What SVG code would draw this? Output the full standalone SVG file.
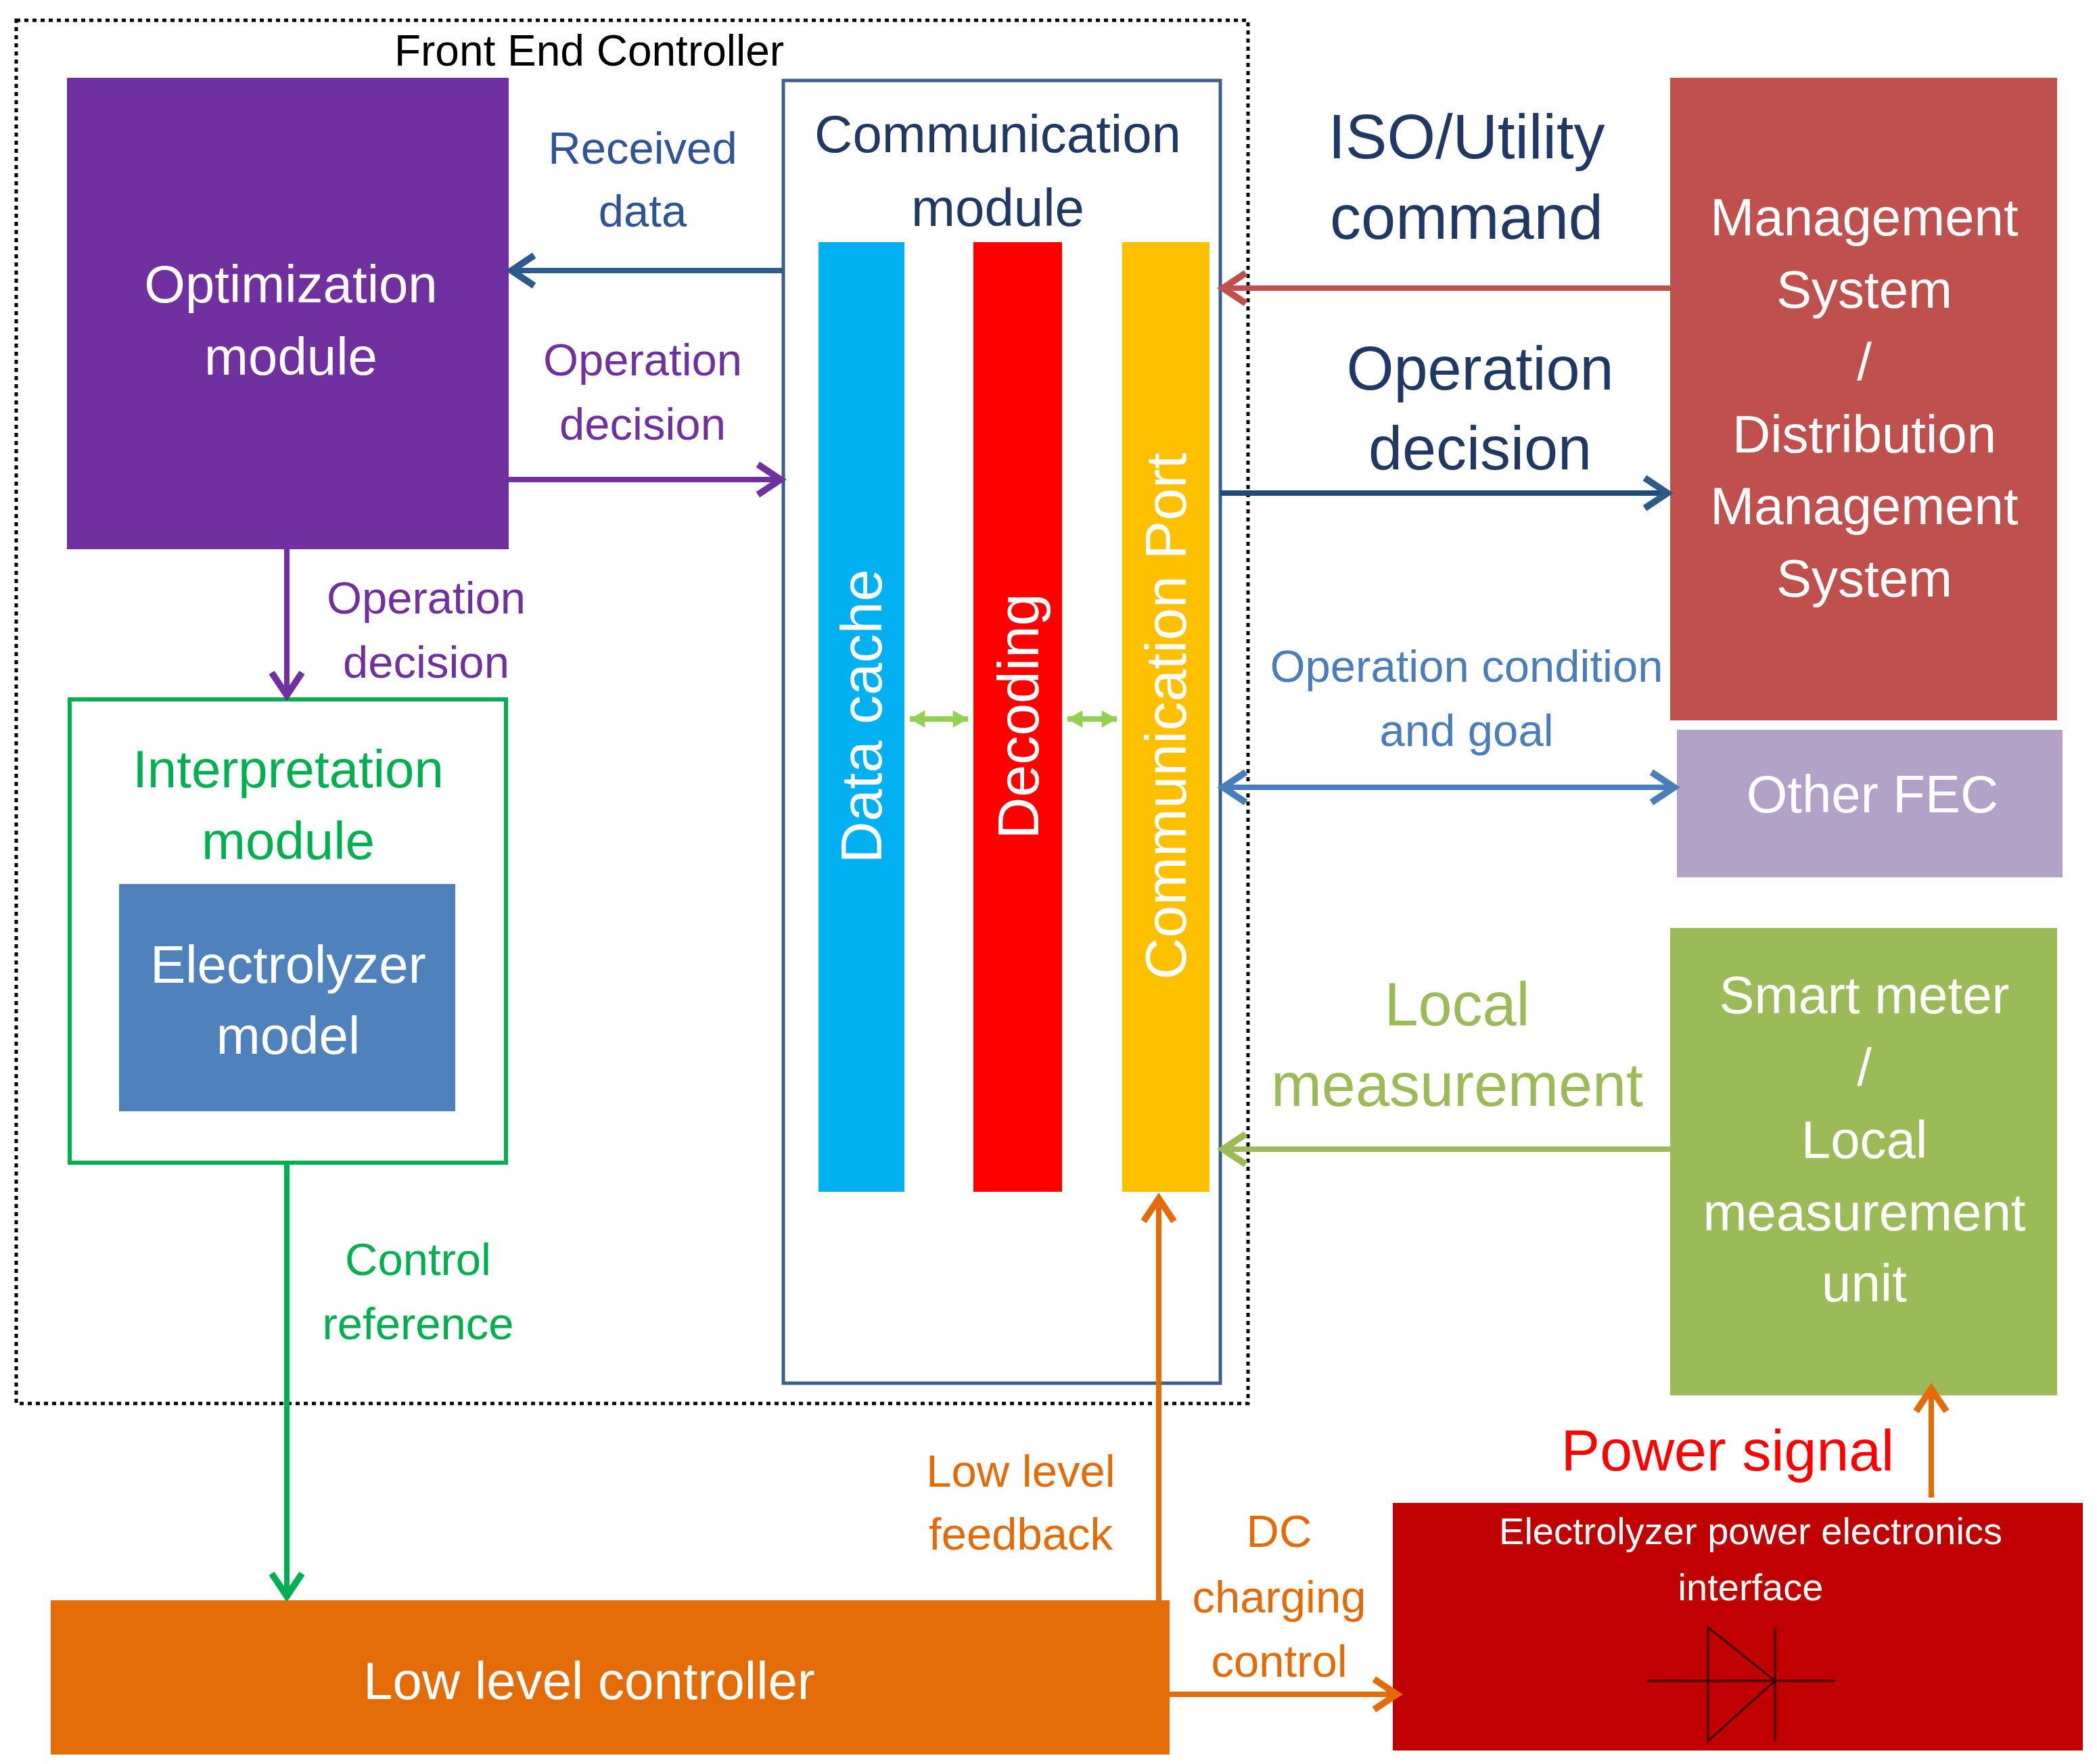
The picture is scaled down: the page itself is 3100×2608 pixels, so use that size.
<svg xmlns="http://www.w3.org/2000/svg" width="3100" height="2608" viewBox="0 0 3100 2608">
<style>
text{font-family:"Liberation Sans",Arial,sans-serif;text-anchor:middle;dominant-baseline:central}
.w{fill:#fff}
.big{font-size:78px}
.vt{font-size:86px}
.lbl{font-size:67px}
.ln{fill:none;stroke-width:8}
</style>
<defs>
<marker id="mBlue" viewBox="0 0 20 20" refX="16" refY="10" markerWidth="7" markerHeight="7" orient="auto-start-reverse" markerUnits="strokeWidth"><polyline points="4,2 16,10 4,18" fill="none" stroke="#2E5A8A" stroke-width="3.5"/></marker>
<marker id="mPur" viewBox="0 0 20 20" refX="16" refY="10" markerWidth="7" markerHeight="7" orient="auto-start-reverse" markerUnits="strokeWidth"><polyline points="4,2 16,10 4,18" fill="none" stroke="#7030A0" stroke-width="3.5"/></marker>
<marker id="mGrn" viewBox="0 0 20 20" refX="16" refY="10" markerWidth="7" markerHeight="7" orient="auto-start-reverse" markerUnits="strokeWidth"><polyline points="4,2 16,10 4,18" fill="none" stroke="#00B050" stroke-width="3.5"/></marker>
<marker id="mOr" viewBox="0 0 20 20" refX="16" refY="10" markerWidth="7" markerHeight="7" orient="auto-start-reverse" markerUnits="strokeWidth"><polyline points="4,2 16,10 4,18" fill="none" stroke="#E36C09" stroke-width="3.5"/></marker>
<marker id="mRed" viewBox="0 0 20 20" refX="16" refY="10" markerWidth="7" markerHeight="7" orient="auto-start-reverse" markerUnits="strokeWidth"><polyline points="4,2 16,10 4,18" fill="none" stroke="#C0504D" stroke-width="3.5"/></marker>
<marker id="mLg" viewBox="0 0 20 20" refX="16" refY="10" markerWidth="7" markerHeight="7" orient="auto-start-reverse" markerUnits="strokeWidth"><polyline points="4,2 16,10 4,18" fill="none" stroke="#9BBB59" stroke-width="3.5"/></marker>
<marker id="mLb" viewBox="0 0 20 20" refX="16" refY="10" markerWidth="7" markerHeight="7" orient="auto-start-reverse" markerUnits="strokeWidth"><polyline points="4,2 16,10 4,18" fill="none" stroke="#4A7EBB" stroke-width="3.5"/></marker>
<marker id="mSg" viewBox="0 0 20 20" refX="16" refY="10" markerWidth="4" markerHeight="4" orient="auto-start-reverse" markerUnits="strokeWidth"><polygon points="2,2 16,10 2,18" fill="#92D050"/></marker>
</defs>
<rect width="3100" height="2608" fill="#fff"/>
<g id="fec">
<rect x="24" y="30" width="1821" height="2045" fill="none" stroke="#000" stroke-width="5" stroke-dasharray="6,6"/>
<text x="871" y="75" font-size="64">Front End Controller</text>
</g>
<g id="optimization">
<rect x="99" y="115" width="653" height="697" fill="#7030A0"/>
<text class="w big" x="430" y="420">Optimization</text>
<text class="w big" x="430" y="527">module</text>
</g>
<g id="comm">
<rect x="1158" y="119" width="646" height="1926" fill="#fff" stroke="#3A5F8A" stroke-width="5"/>
<text class="big" x="1475" y="198" fill="#1F3864">Communication</text>
<text class="big" x="1475" y="307" fill="#1F3864">module</text>
</g>
<g id="datacache"><rect x="1210" y="358" width="127" height="1404" fill="#00B0F0"/>
<text class="w vt" transform="translate(1273,1059) rotate(-90)">Data cache</text></g>
<g id="decoding"><rect x="1439" y="358" width="131" height="1404" fill="#FF0000"/>
<text class="w vt" transform="translate(1505,1059) rotate(-90)">Decoding</text></g>
<g id="port"><rect x="1659" y="358" width="129" height="1404" fill="#FFC000"/>
<text class="w vt" transform="translate(1723,1059) rotate(-90)">Communication Port</text></g>
<g id="interpretation">
<rect x="103" y="1034" width="645" height="685" fill="#fff" stroke="#00B050" stroke-width="6"/>
<text class="big" x="426" y="1137" fill="#00B050">Interpretation</text>
<text class="big" x="426" y="1243" fill="#00B050">module</text>
</g>
<g id="electrolyzer-model">
<rect x="176" y="1307" width="497" height="336" fill="#4F81BD"/>
<text class="w big" x="426" y="1426">Electrolyzer</text>
<text class="w big" x="426" y="1531">model</text>
</g>
<g id="llc">
<rect x="75" y="2366" width="1654" height="228" fill="#E36C09"/>
<text class="w big" x="871" y="2485">Low level controller</text>
</g>
<g id="epei">
<rect x="2059" y="2222" width="1020" height="366" fill="#C00000"/>
<text class="w" font-size="56" x="2588" y="2263">Electrolyzer power electronics</text>
<text class="w" font-size="56" x="2588" y="2346">interface</text>
<g stroke="#3a0000" stroke-width="3" fill="none">
<line x1="2435" y1="2485" x2="2713" y2="2485"/>
<polygon points="2525,2406 2525,2574 2624,2485"/>
<line x1="2624" y1="2406" x2="2624" y2="2574"/>
</g>
</g>
<g id="smartmeter">
<rect x="2469" y="1372" width="572" height="691" fill="#9BBB59"/>
<text class="w big" x="2756" y="1471">Smart meter</text>
<text class="w big" x="2756" y="1578">/</text>
<text class="w big" x="2756" y="1685">Local</text>
<text class="w big" x="2756" y="1792">measurement</text>
<text class="w big" x="2756" y="1897">unit</text>
</g>
<g id="otherfec">
<rect x="2479" y="1079" width="570" height="218" fill="#B3A2C7"/>
<text class="w big" x="2768" y="1174">Other FEC</text>
</g>
<g id="mgmt">
<rect x="2469" y="115" width="572" height="950" fill="#C0504D"/>
<text class="w big" x="2756" y="321">Management</text>
<text class="w big" x="2756" y="428">System</text>
<text class="w big" x="2756" y="535">/</text>
<text class="w big" x="2756" y="642">Distribution</text>
<text class="w big" x="2756" y="748">Management</text>
<text class="w big" x="2756" y="855">System</text>
</g>
<g id="connectors">
<line class="ln" x1="1158" y1="400" x2="756" y2="400" stroke="#2E5A8A" marker-end="url(#mBlue)"/>
<line class="ln" x1="752" y1="709" x2="1154" y2="709" stroke="#7030A0" marker-end="url(#mPur)"/>
<line class="ln" x1="424" y1="812" x2="424" y2="1028" stroke="#7030A0" marker-end="url(#mPur)"/>
<line class="ln" x1="424" y1="1719" x2="424" y2="2360" stroke="#00B050" marker-end="url(#mGrn)"/>
<line class="ln" x1="1713" y1="2366" x2="1713" y2="1772" stroke="#E36C09" marker-end="url(#mOr)"/>
<line class="ln" x1="1729" y1="2505" x2="2065" y2="2505" stroke="#E36C09" marker-end="url(#mOr)"/>
<line class="ln" x1="2855" y1="2214" x2="2855" y2="2053" stroke="#E36C09" marker-end="url(#mOr)"/>
<line class="ln" x1="2469" y1="1699" x2="1808" y2="1699" stroke="#9BBB59" marker-end="url(#mLg)"/>
<line class="ln" x1="1808" y1="1164" x2="2475" y2="1164" stroke="#4A7EBB" marker-start="url(#mLb)" marker-end="url(#mLb)"/>
<line class="ln" x1="2469" y1="426" x2="1808" y2="426" stroke="#C0504D" marker-end="url(#mRed)"/>
<line class="ln" x1="1804" y1="729" x2="2465" y2="729" stroke="#1F497D" marker-end="url(#mBlue)"/>
<line x1="1345" y1="1063" x2="1431" y2="1063" stroke="#92D050" stroke-width="8" marker-start="url(#mSg)" marker-end="url(#mSg)"/>
<line x1="1578" y1="1063" x2="1651" y2="1063" stroke="#92D050" stroke-width="8" marker-start="url(#mSg)" marker-end="url(#mSg)"/>
</g>
<g id="labels">
<text class="lbl" x="950" y="218" fill="#2F5597">Received</text>
<text class="lbl" x="950" y="311" fill="#2F5597">data</text>
<text class="lbl" x="950" y="531" fill="#7030A0">Operation</text>
<text class="lbl" x="950" y="626" fill="#7030A0">decision</text>
<text class="lbl" x="630" y="883" fill="#7030A0">Operation</text>
<text class="lbl" x="630" y="978" fill="#7030A0">decision</text>
<text class="lbl" x="618" y="1861" fill="#00B050">Control</text>
<text class="lbl" x="618" y="1956" fill="#00B050">reference</text>
<text class="lbl" x="1509" y="2174" fill="#E36C09">Low level</text>
<text class="lbl" x="1509" y="2267" fill="#E36C09">feedback</text>
<text class="lbl" x="1891" y="2263" fill="#E36C09">DC</text>
<text class="lbl" x="1891" y="2360" fill="#E36C09">charging</text>
<text class="lbl" x="1891" y="2455" fill="#E36C09">control</text>
<text x="2554" y="2144" font-size="86" fill="#FF0000">Power signal</text>
<text x="2154" y="1485" font-size="90" fill="#9BBB59">Local</text>
<text x="2154" y="1604" font-size="90" fill="#9BBB59">measurement</text>
<text class="lbl" x="2168" y="984" fill="#4A7EBB">Operation condition</text>
<text class="lbl" x="2168" y="1079" fill="#4A7EBB">and goal</text>
<text x="2168" y="202" font-size="92" fill="#1F3864">ISO/Utility</text>
<text x="2168" y="321" font-size="92" fill="#1F3864">command</text>
<text x="2188" y="545" font-size="90" fill="#1F3864">Operation</text>
<text x="2188" y="663" font-size="90" fill="#1F3864">decision</text>
</g>
</svg>
